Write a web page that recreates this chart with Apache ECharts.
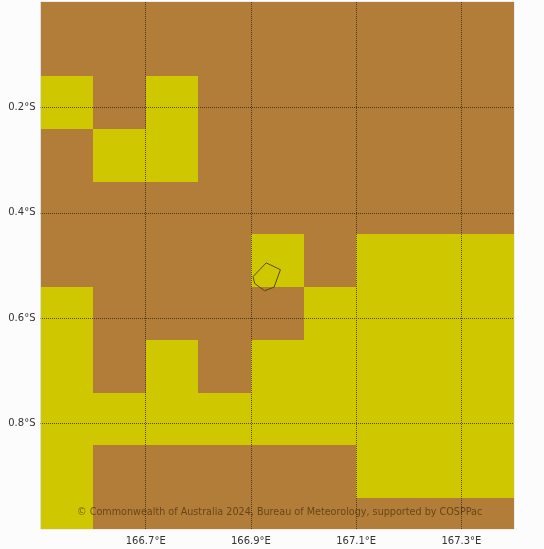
<!DOCTYPE html>
<html>
<head>
<meta charset="utf-8">
<style>
  html, body { margin: 0; padding: 0; background: #fcfcfc; }
  #main { width: 544px; height: 549px; }
</style>
<script src="https://cdn.jsdelivr.net/npm/echarts@6/dist/echarts.min.js"></script>
</head>
<body>
<div id="main"></div>
<script>
// cell edges in degrees
const lonEdges = [166.5, 166.6, 166.7, 166.8, 166.9, 167.0, 167.1, 167.2, 167.3, 167.4];
const latEdges = [0, -0.041, -0.141, -0.241, -0.341, -0.441, -0.541, -0.641, -0.741, -0.841, -0.941, -1.0];

// one row per latitude band, north to south, 1 = yellow class
const cellClasses = [
  [0, 0, 0, 0, 0, 0, 0, 0, 0],
  [0, 0, 0, 0, 0, 0, 0, 0, 0],
  [1, 0, 1, 0, 0, 0, 0, 0, 0],
  [0, 1, 1, 0, 0, 0, 0, 0, 0],
  [0, 0, 0, 0, 0, 0, 0, 0, 0],
  [0, 0, 0, 0, 1, 0, 1, 1, 1],
  [1, 0, 0, 0, 0, 1, 1, 1, 1],
  [1, 0, 1, 0, 1, 1, 1, 1, 1],
  [1, 1, 1, 1, 1, 1, 1, 1, 1],
  [1, 0, 0, 0, 0, 0, 1, 1, 1],
  [1, 0, 0, 0, 0, 0, 0, 0, 0]
];

// island outline, lon / lat
const islandLon = [166.929, 166.956, 166.944, 166.926, 166.907, 166.904, 166.929];
const islandLat = [-0.495, -0.508, -0.541, -0.548, -0.534, -0.521, -0.495];

const classColors = ['#b27d38', '#cfc700'];
const copyright = '© Commonwealth of Australia 2024, Bureau of Meteorology, supported by COSPPac';

const cells = [];
cellClasses.forEach(function (row, r) {
  row.forEach(function (cls, c) {
    cells.push([lonEdges[c], lonEdges[c + 1], latEdges[r], latEdges[r + 1], cls]);
  });
});

function renderCell(params, api) {
  const nw = api.coord([api.value(0), api.value(2)]);
  const se = api.coord([api.value(1), api.value(3)]);
  return {
    type: 'rect',
    shape: {
      x: Math.round(nw[0]),
      y: Math.round(nw[1]),
      width: Math.round(se[0]) - Math.round(nw[0]),
      height: Math.round(se[1]) - Math.round(nw[1])
    },
    style: { fill: classColors[api.value(4)] }
  };
}

const lineColor = 'rgba(40,30,10,0.72)';
const labelFont = { color: '#333', fontFamily: 'DejaVu Sans', fontSize: 10 };

const chart = echarts.init(document.getElementById('main'), null, { renderer: 'canvas' });
chart.setOption({
  animation: false,
  backgroundColor: '#fcfcfc',
  title: {
    text: copyright,
    left: 72,
    top: 502,
    textStyle: { color: 'rgba(50,30,5,0.6)', fontFamily: 'DejaVu Sans', fontSize: 9.65, fontWeight: 'normal' }
  },
  grid: { left: 40.5, right: 30, top: 2, bottom: 20, show: true, backgroundColor: 'transparent', borderColor: '#dedede', borderWidth: 1 },
  xAxis: {
    type: 'value',
    min: 166.5,
    max: 167.4,
    interval: 0.2,
    z: 5,
    axisLine: { show: false },
    axisTick: { show: false },
    splitLine: { show: true, showMinLine: false, showMaxLine: false, lineStyle: { color: lineColor, width: 1, type: [1, 1] } },
    axisLabel: Object.assign({ margin: 7, showMinLabel: false, showMaxLabel: false, formatter: function (v) { return v.toFixed(1) + '°E'; } }, labelFont)
  },
  yAxis: {
    type: 'value',
    min: -1,
    max: 0,
    interval: 0.2,
    z: 5,
    axisLine: { show: false },
    axisTick: { show: false },
    // grid starts on a half pixel, the offset keeps the dots crisp
    splitLine: { show: true, showMinLine: false, showMaxLine: false, lineStyle: { color: lineColor, width: 1, type: [1, 1], dashOffset: 0.5 } },
    axisLabel: Object.assign({ margin: 5, padding: [2, 0, 0, 0], showMinLabel: false, showMaxLabel: false, formatter: function (v) { return Math.abs(v).toFixed(1) + '°S'; } }, labelFont)
  },
  series: [
    {
      type: 'custom',
      z: 1,
      silent: true,
      clip: true,
      renderItem: renderCell,
      encode: { x: [0, 1], y: [2, 3] },
      data: cells
    },
    {
      type: 'line',
      z: 3,
      silent: true,
      symbol: 'none',
      lineStyle: { color: '#5a4a10', width: 1 },
      data: islandLon.map(function (lon, i) { return [lon, islandLat[i]]; })
    }
  ]
});
</script>
</body>
</html>
